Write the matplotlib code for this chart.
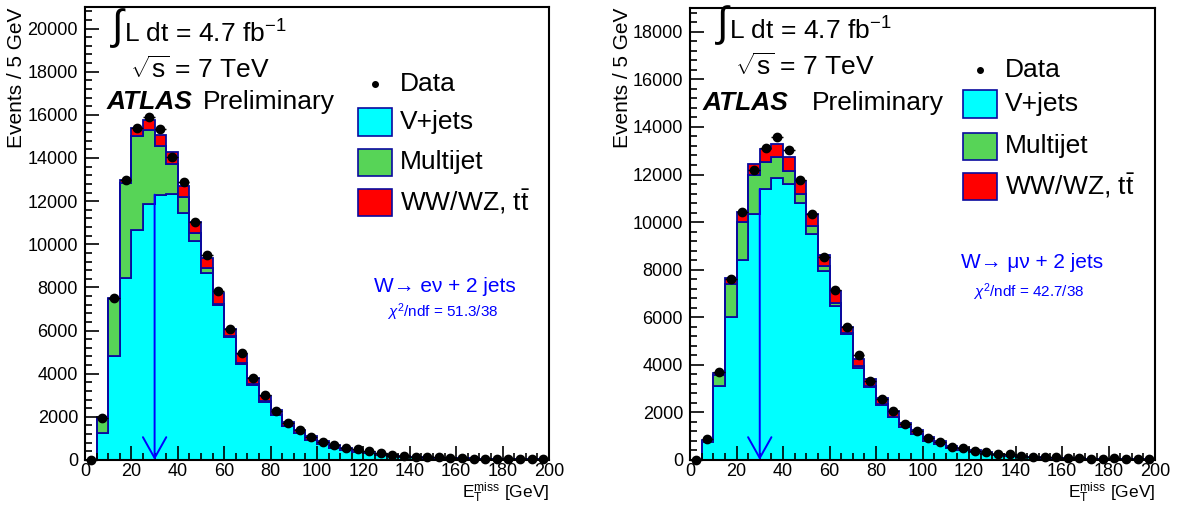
import numpy as np
import matplotlib
matplotlib.use("Agg")
import matplotlib.pyplot as plt
import matplotlib.patches as mpatches
from matplotlib.ticker import MultipleLocator

plt.rcParams['font.family'] = ['Liberation Sans', 'DejaVu Sans']
plt.rcParams['mathtext.fontset'] = 'custom'
plt.rcParams['mathtext.rm'] = 'Liberation Sans'
plt.rcParams['mathtext.it'] = 'Liberation Sans:italic'
plt.rcParams['mathtext.bf'] = 'Liberation Sans:bold'

# ---------------- data ----------------
bin_edges = np.arange(0, 205, 5)

# electron channel
vjets_e = [0, 1250, 4840, 8450, 10650, 11890, 12300, 12340, 11440, 10160, 8680, 7200, 5710, 4450,
           3500, 2710, 2090, 1580, 1240, 930, 730, 570, 470, 390, 320, 250, 200, 160, 130, 110,
           95, 80, 68, 58, 50, 43, 37, 32, 28, 25]
multijet_e = [0, 700, 2610, 4370, 4360, 3410, 2270, 1380, 730, 380, 200, 50, 20, 50,
              20, 10, 10, 10, 5, 5, 5, 5, 5, 2, 2, 2, 2, 2, 1, 1,
              1, 1, 1, 1, 1, 1, 1, 1, 1, 1]
ewk_e = [0, 30, 70, 160, 370, 470, 500, 570, 540, 510, 500, 470, 360, 400,
         280, 270, 200, 190, 155, 175, 125, 115, 95, 78, 68, 48, 38, 28, 29, 24,
         19, 15, 13, 11, 9, 8, 7, 6, 5, 4]
data_e = [0, 1950, 7500, 12980, 15380, 15890, 15350, 14030, 12910, 11050, 9490, 7830, 6050, 4960,
          3790, 3000, 2250, 1710, 1370, 1050, 850, 700, 570, 500, 400, 310, 230, 190, 160, 150,
          120, 90, 80, 65, 60, 50, 45, 40, 35, 30]

# muon channel
vjets_m = [0, 760, 3110, 6030, 8400, 10320, 11390, 11860, 11620, 10810, 9520, 7950, 6490, 5280,
           3870, 3080, 2320, 1790, 1370, 1090, 810, 660, 490, 400, 320, 260, 200, 165, 130, 110,
           90, 75, 62, 52, 45, 38, 33, 28, 24, 20]
multijet_m = [0, 20, 460, 1370, 1610, 1680, 1140, 890, 540, 370, 330, 200, 120, 40,
              100, 20, 20, 10, 10, 5, 5, 5, 3, 3, 2, 2, 2, 1, 1, 1,
              1, 1, 1, 1, 1, 1, 1, 1, 1, 1]
ewk_m = [0, 60, 70, 230, 420, 460, 540, 550, 590, 560, 470, 460, 480, 250,
         290, 300, 270, 260, 190, 165, 135, 145, 105, 87, 78, 58, 48, 39, 34, 29,
         24, 19, 17, 15, 12, 11, 9, 8, 7, 7]
data_m = [0, 870, 3680, 7590, 10430, 12180, 13100, 13590, 13050, 11760, 10330, 8520, 7140, 5570,
          4410, 3320, 2570, 2060, 1510, 1200, 910, 760, 560, 490, 390, 350, 250, 240, 170, 140,
          140, 110, 84, 100, 56, 56, 70, 42, 42, 28]

legend_labels = ["Data", "V+jets", "Multijet", r"WW/WZ, t$\bar{\mathrm{t}}$"]
channel_labels = ["W\u2192 e\u03bd + 2 jets", "W\u2192 \u03bc\u03bd + 2 jets"]
chi2_labels = [r"$\chi^{2}$/ndf = 51.3/38", r"$\chi^{2}$/ndf = 42.7/38"]
ymax_vals = [21000, 19000]
arrow_tops = [12300, 11390]
met_cut = 30

# ---------------- style ----------------
W, H = 1182, 509
C_CYAN = '#00FFFF'
C_GREEN = '#57D457'
C_RED = '#FF0000'
C_EDGE = '#0A0A9E'
C_BLUE = '#0000FF'

fig = plt.figure(figsize=(W / 100, H / 100), dpi=100)


def fx(x):
    return x / W


def fy(y):
    return 1 - y / H


def ftext(x, y, s, **kw):
    fig.text(fx(x), fy(y), s, **kw)


def panel(rect, vj, mj, ew, dat, ymax, arrow_top):
    x0, y0, x1, y1 = rect
    ax = fig.add_axes([fx(x0), fy(y1), (x1 - x0) / W, (y1 - y0) / H])
    vj = np.array(vj, float)
    mj = np.array(mj, float)
    ew = np.array(ew, float)
    dat = np.array(dat, float)
    b1 = vj
    b2 = vj + mj
    b3 = vj + mj + ew
    ax.stairs(b1, bin_edges, baseline=0, fill=True, facecolor=C_CYAN, edgecolor=C_EDGE, lw=1.3)
    ax.stairs(b2, bin_edges, baseline=b1, fill=True, facecolor=C_GREEN, edgecolor=C_EDGE, lw=1.3)
    ax.stairs(b3, bin_edges, baseline=b2, fill=True, facecolor=C_RED, edgecolor=C_EDGE, lw=1.3)
    centers = 0.5 * (bin_edges[:-1] + bin_edges[1:])
    ax.errorbar(centers, dat, xerr=2.5, yerr=np.sqrt(dat), fmt='o', color='black',
                markersize=6, elinewidth=1.0, capsize=0, zorder=5, clip_on=False)
    ax.annotate('', xy=(met_cut, 0), xytext=(met_cut, arrow_top),
                arrowprops=dict(arrowstyle='->,head_length=0.75,head_width=0.42',
                                color=C_BLUE, lw=1.4, shrinkA=0, shrinkB=0,
                                mutation_scale=20), zorder=6)
    ax.set_xlim(0, 200)
    ax.set_ylim(0, ymax)
    ax.xaxis.set_major_locator(MultipleLocator(20))
    ax.xaxis.set_minor_locator(MultipleLocator(5))
    ax.yaxis.set_major_locator(MultipleLocator(2000))
    ax.yaxis.set_minor_locator(MultipleLocator(400))
    ax.tick_params(which='both', direction='in', top=False, right=False, labelsize=13,
                   width=1.2, colors='black')
    ax.tick_params(which='major', length=10, pad=5)
    ax.tick_params(axis='x', which='major', pad=2)
    ax.tick_params(which='minor', length=5)
    for sp in ax.spines.values():
        sp.set_linewidth(1.5)
    return ax


ax1 = panel((85, 7, 549, 460), vjets_e, multijet_e, ewk_e, data_e, ymax_vals[0], arrow_tops[0])
ax2 = panel((690, 8, 1155, 460), vjets_m, multijet_m, ewk_m, data_m, ymax_vals[1], arrow_tops[1])

# axis titles
for xl, xr in ((17, 549), (623, 1155)):
    ftext(xl, 8, "Events / 5 GeV", rotation=90, ha='center', va='top', fontsize=15)
    ftext(xr, 498, r"E$_{\mathrm{T}}^{\mathrm{miss}}$ [GeV]", ha='right', va='baseline', fontsize=12.5)

# header texts
for dx, dy in ((0, 0), (605, -3)):
    ftext(112 + dx, 28 + dy, "\u222b", ha='left', va='center', fontsize=30)
    ftext(124 + dx, 43 + dy, r"L dt = 4.7 fb$^{\mathrm{-1}}$", ha='left', va='baseline', fontsize=19)
    ftext(130 + dx, 78 + dy, r"$\sqrt{\mathrm{s}}$ = 7 TeV", ha='left', va='baseline', fontsize=19)

ftext(107, 109, "ATLAS", ha='left', va='baseline', fontsize=19, fontweight='bold', fontstyle='italic')
ftext(203, 109, "Preliminary", ha='left', va='baseline', fontsize=19)
ftext(703, 110, "ATLAS", ha='left', va='baseline', fontsize=19, fontweight='bold', fontstyle='italic')
ftext(812, 110, "Preliminary", ha='left', va='baseline', fontsize=19)

# legends (manual, ROOT-like)
for bx, rows in ((358, (84, 122, 162, 202)), (963, (70, 104, 146, 186))):
    fig.add_artist(plt.Line2D([fx(bx + 17)], [fy(rows[0])], marker='o', color='black',
                              markersize=4, transform=fig.transFigure))
    for r, col in zip(rows[1:], (C_CYAN, C_GREEN, C_RED)):
        fig.add_artist(mpatches.Rectangle((fx(bx), fy(r + 13.5)), 34 / W, 27 / H,
                                          facecolor=col, edgecolor=C_EDGE, lw=1.2,
                                          transform=fig.transFigure))
    for r, lab in zip(rows, legend_labels):
        ftext(bx + 42, r, lab, ha='left', va='center', fontsize=19)

# channel labels
ftext(445, 287, channel_labels[0], ha='center', va='center', fontsize=15, color=C_BLUE)
ftext(443, 312, chi2_labels[0], ha='center', va='center', fontsize=11, color=C_BLUE)
ftext(1032, 262, channel_labels[1], ha='center', va='center', fontsize=15, color=C_BLUE)
ftext(1029, 292, chi2_labels[1], ha='center', va='center', fontsize=11, color=C_BLUE)

fig.savefig("out.png", dpi=100)
